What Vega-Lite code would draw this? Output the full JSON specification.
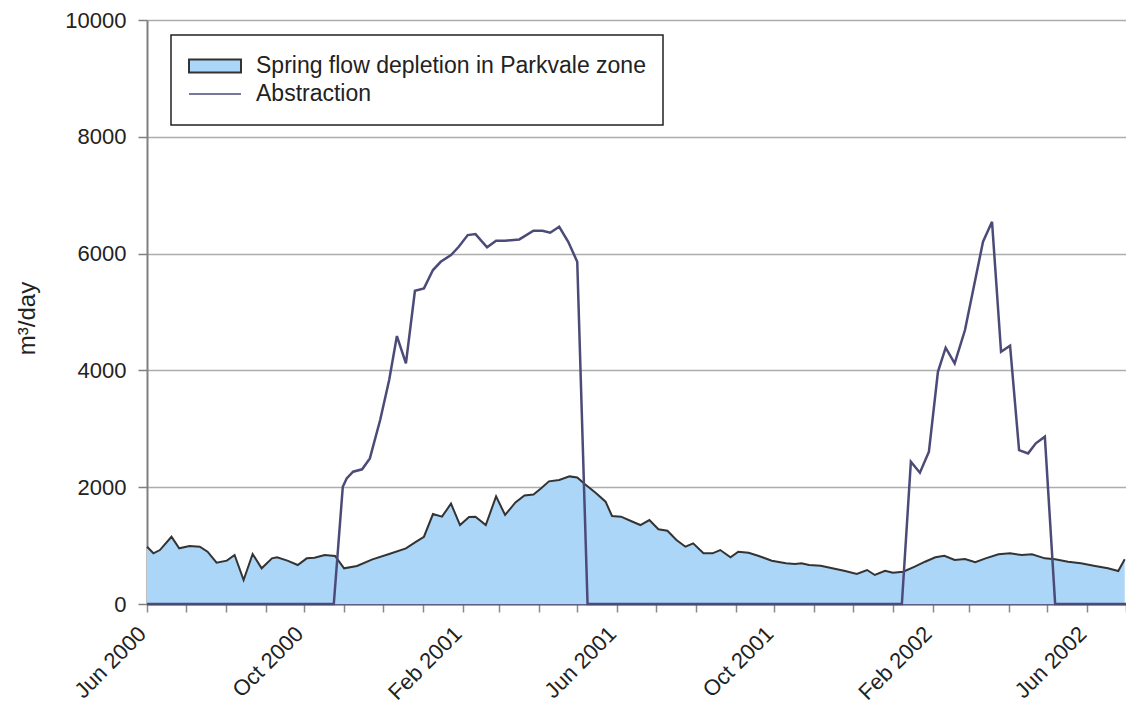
{
  "$schema": "https://vega.github.io/schema/vega-lite/v6.json",
  "width": 979,
  "height": 584,
  "autosize": "none",
  "padding": {"left": 147, "top": 20, "right": 0, "bottom": 107},
  "background": "white",
  "config": {"view": {"stroke": null}, "font": "Liberation Sans"},
  "encoding": {
    "x": {
      "field": "date",
      "type": "temporal",
      "scale": {"domain": [{"year": 2000, "month": 6, "date": 1}, {"year": 2002, "month": 7, "date": 1}]},
      "axis": {
        "title": null,
        "tickCount": {"interval": "month", "step": 1},
        "labelExpr": "month(datum.value) % 4 == 1 ? timeFormat(datum.value, '%b %Y') : ''",
        "labelAngle": -45,
        "labelAlign": "right",
        "labelBaseline": "middle",
        "labelFontSize": 22,
        "labelColor": "#222222",
        "labelPadding": 18,
        "labelOffset": -5,
        "labelOverlap": false,
        "labelBound": false,
        "labelFlush": false,
        "tickSize": 8,
        "tickColor": "#888888",
        "tickWidth": 1.5,
        "domainColor": "#5f5e85",
        "domainWidth": 2,
        "grid": false
      }
    },
    "y": {
      "field": "v",
      "type": "quantitative",
      "scale": {"domain": [0, 10000], "nice": false},
      "axis": {
        "title": "m³/day",
        "format": "d",
        "values": [0, 2000, 4000, 6000, 8000, 10000],
        "grid": true,
        "gridColor": "#adadad",
        "gridWidth": 1.5,
        "domainColor": "#808080",
        "domainWidth": 2,
        "tickColor": "#808080",
        "tickSize": 9,
        "tickWidth": 1.5,
        "labelFontSize": 22,
        "labelPadding": 12,
        "labelColor": "#222222",
        "titleFontSize": 24,
        "titleFontWeight": "normal",
        "titleColor": "#222222",
        "titleX": -120,
        "titleY": 298,
        "titleAlign": "center",
        "titleBaseline": "middle",
        "titleAngle": -90
      }
    }
  },
  "layer": [
    {
      "data": {
        "name": "spring",
        "values": [
          {"date": "2000-06-01", "v": 981},
          {"date": "2000-06-06", "v": 868},
          {"date": "2000-06-11", "v": 924},
          {"date": "2000-06-20", "v": 1152},
          {"date": "2000-06-26", "v": 953},
          {"date": "2000-07-04", "v": 993},
          {"date": "2000-07-12", "v": 981},
          {"date": "2000-07-18", "v": 895},
          {"date": "2000-07-25", "v": 707},
          {"date": "2000-08-02", "v": 742},
          {"date": "2000-08-08", "v": 839},
          {"date": "2000-08-15", "v": 411},
          {"date": "2000-08-22", "v": 856},
          {"date": "2000-08-29", "v": 611},
          {"date": "2000-09-06", "v": 782},
          {"date": "2000-09-10", "v": 799},
          {"date": "2000-09-18", "v": 742},
          {"date": "2000-09-26", "v": 668},
          {"date": "2000-10-03", "v": 782},
          {"date": "2000-10-09", "v": 793},
          {"date": "2000-10-17", "v": 839},
          {"date": "2000-10-25", "v": 822},
          {"date": "2000-11-01", "v": 611},
          {"date": "2000-11-11", "v": 651},
          {"date": "2000-11-23", "v": 765},
          {"date": "2000-12-06", "v": 856},
          {"date": "2000-12-19", "v": 953},
          {"date": "2000-12-27", "v": 1067},
          {"date": "2001-01-02", "v": 1152},
          {"date": "2001-01-09", "v": 1540},
          {"date": "2001-01-16", "v": 1495},
          {"date": "2001-01-23", "v": 1718},
          {"date": "2001-01-30", "v": 1352},
          {"date": "2001-02-06", "v": 1490},
          {"date": "2001-02-11", "v": 1495},
          {"date": "2001-02-19", "v": 1352},
          {"date": "2001-02-27", "v": 1843},
          {"date": "2001-03-06", "v": 1524},
          {"date": "2001-03-14", "v": 1740},
          {"date": "2001-03-21", "v": 1858},
          {"date": "2001-03-28", "v": 1875},
          {"date": "2001-04-03", "v": 1981},
          {"date": "2001-04-09", "v": 2100},
          {"date": "2001-04-17", "v": 2123},
          {"date": "2001-04-25", "v": 2185},
          {"date": "2001-05-01", "v": 2165},
          {"date": "2001-05-07", "v": 2050},
          {"date": "2001-05-15", "v": 1910},
          {"date": "2001-05-23", "v": 1752},
          {"date": "2001-05-28", "v": 1507},
          {"date": "2001-06-04", "v": 1495},
          {"date": "2001-06-13", "v": 1409},
          {"date": "2001-06-19", "v": 1352},
          {"date": "2001-06-26", "v": 1438},
          {"date": "2001-07-03", "v": 1279},
          {"date": "2001-07-10", "v": 1255},
          {"date": "2001-07-17", "v": 1096},
          {"date": "2001-07-24", "v": 981},
          {"date": "2001-07-30", "v": 1039},
          {"date": "2001-08-07", "v": 868},
          {"date": "2001-08-14", "v": 868},
          {"date": "2001-08-20", "v": 924},
          {"date": "2001-08-28", "v": 799},
          {"date": "2001-09-03", "v": 895},
          {"date": "2001-09-11", "v": 878},
          {"date": "2001-09-19", "v": 822},
          {"date": "2001-09-29", "v": 742},
          {"date": "2001-10-10", "v": 697},
          {"date": "2001-10-17", "v": 685},
          {"date": "2001-10-22", "v": 697},
          {"date": "2001-10-28", "v": 668},
          {"date": "2001-11-06", "v": 656},
          {"date": "2001-11-15", "v": 611},
          {"date": "2001-11-25", "v": 565},
          {"date": "2001-12-04", "v": 514},
          {"date": "2001-12-12", "v": 582},
          {"date": "2001-12-18", "v": 497},
          {"date": "2001-12-26", "v": 570},
          {"date": "2002-01-01", "v": 536},
          {"date": "2002-01-09", "v": 553},
          {"date": "2002-01-18", "v": 639},
          {"date": "2002-01-26", "v": 724},
          {"date": "2002-02-03", "v": 799},
          {"date": "2002-02-10", "v": 827},
          {"date": "2002-02-18", "v": 753},
          {"date": "2002-02-26", "v": 770},
          {"date": "2002-03-06", "v": 714},
          {"date": "2002-03-14", "v": 782},
          {"date": "2002-03-24", "v": 851},
          {"date": "2002-04-02", "v": 868},
          {"date": "2002-04-11", "v": 839},
          {"date": "2002-04-19", "v": 851},
          {"date": "2002-04-29", "v": 782},
          {"date": "2002-05-07", "v": 765},
          {"date": "2002-05-17", "v": 724},
          {"date": "2002-05-27", "v": 697},
          {"date": "2002-06-07", "v": 651},
          {"date": "2002-06-17", "v": 611},
          {"date": "2002-06-25", "v": 565},
          {"date": "2002-06-30", "v": 765}
        ],
        "format": {"parse": {"date": "date:'%Y-%m-%d'"}}
      },
      "layer": [
        {
          "mark": {"type": "area", "opacity": 1},
          "encoding": {
            "color": {
              "datum": "Spring flow depletion in Parkvale zone",
              "type": "nominal",
              "scale": {
                "domain": ["Spring flow depletion in Parkvale zone", "Abstraction"],
                "range": ["#acd6f7", "#4c4b78"]
              },
              "legend": {
                "orient": "none",
                "legendX": 24,
                "legendY": 15,
                "title": null,
                "strokeColor": "#222222",
                "fillColor": "white",
                "padding": 17,
                "labelFont": "Liberation Sans",
                "labelFontSize": 23,
                "labelColor": "#222222",
                "labelLimit": 0,
                "symbolSize": 2704,
                "clipHeight": 28,
                "labelOffset": 14,
                "rowPadding": 0,
                "encoding": {
                  "legend": {"strokeWidth": {"value": 1.5}},
                  "symbols": {
                    "shape": {"value": {"expr": "datum.value === 'Abstraction' ? 'stroke' : 'M-1,-0.25H1V0.25H-1Z'"}},
                    "stroke": {"value": {"expr": "datum.value === 'Abstraction' ? '#77769c' : '#333333'"}},
                    "strokeWidth": {"value": 2},
                    "strokeOpacity": {"value": 1},
                    "fillOpacity": {"value": 1},
                    "opacity": {"value": 1}
                  }
                }
              }
            }
          }
        },
        {
          "mark": {"type": "line", "color": "#333333", "strokeWidth": 2},
          "encoding": {}
        }
      ]
    },
    {
      "data": {
        "name": "abstraction",
        "values": [
          {"date": "2000-06-01", "v": 0},
          {"date": "2000-10-24", "v": 0},
          {"date": "2000-10-31", "v": 2008},
          {"date": "2000-11-03", "v": 2151},
          {"date": "2000-11-08", "v": 2265},
          {"date": "2000-11-15", "v": 2306},
          {"date": "2000-11-21", "v": 2494},
          {"date": "2000-11-29", "v": 3150},
          {"date": "2000-12-06", "v": 3835},
          {"date": "2000-12-12", "v": 4588},
          {"date": "2000-12-19", "v": 4121},
          {"date": "2000-12-26", "v": 5364},
          {"date": "2001-01-02", "v": 5405},
          {"date": "2001-01-09", "v": 5718},
          {"date": "2001-01-15", "v": 5860},
          {"date": "2001-01-23", "v": 5975},
          {"date": "2001-01-29", "v": 6117},
          {"date": "2001-02-05", "v": 6317},
          {"date": "2001-02-11", "v": 6334},
          {"date": "2001-02-20", "v": 6107},
          {"date": "2001-02-27", "v": 6220},
          {"date": "2001-03-06", "v": 6220},
          {"date": "2001-03-17", "v": 6243},
          {"date": "2001-03-28", "v": 6391},
          {"date": "2001-04-04", "v": 6391},
          {"date": "2001-04-10", "v": 6357},
          {"date": "2001-04-17", "v": 6460},
          {"date": "2001-04-24", "v": 6203},
          {"date": "2001-05-01", "v": 5860},
          {"date": "2001-05-09", "v": 0},
          {"date": "2002-01-08", "v": 0},
          {"date": "2002-01-15", "v": 2437},
          {"date": "2002-01-22", "v": 2248},
          {"date": "2002-01-29", "v": 2608},
          {"date": "2002-02-05", "v": 3977},
          {"date": "2002-02-11", "v": 4388},
          {"date": "2002-02-18", "v": 4121},
          {"date": "2002-02-26", "v": 4691},
          {"date": "2002-03-12", "v": 6203},
          {"date": "2002-03-19", "v": 6545},
          {"date": "2002-03-26", "v": 4320},
          {"date": "2002-04-02", "v": 4422},
          {"date": "2002-04-09", "v": 2636},
          {"date": "2002-04-16", "v": 2579},
          {"date": "2002-04-22", "v": 2751},
          {"date": "2002-04-29", "v": 2865},
          {"date": "2002-05-07", "v": 0},
          {"date": "2002-07-01", "v": 0}
        ],
        "format": {"parse": {"date": "date:'%Y-%m-%d'"}}
      },
      "mark": {"type": "line", "strokeWidth": 2.5, "color": "#4c4b78"},
      "encoding": {}
    }
  ]
}
